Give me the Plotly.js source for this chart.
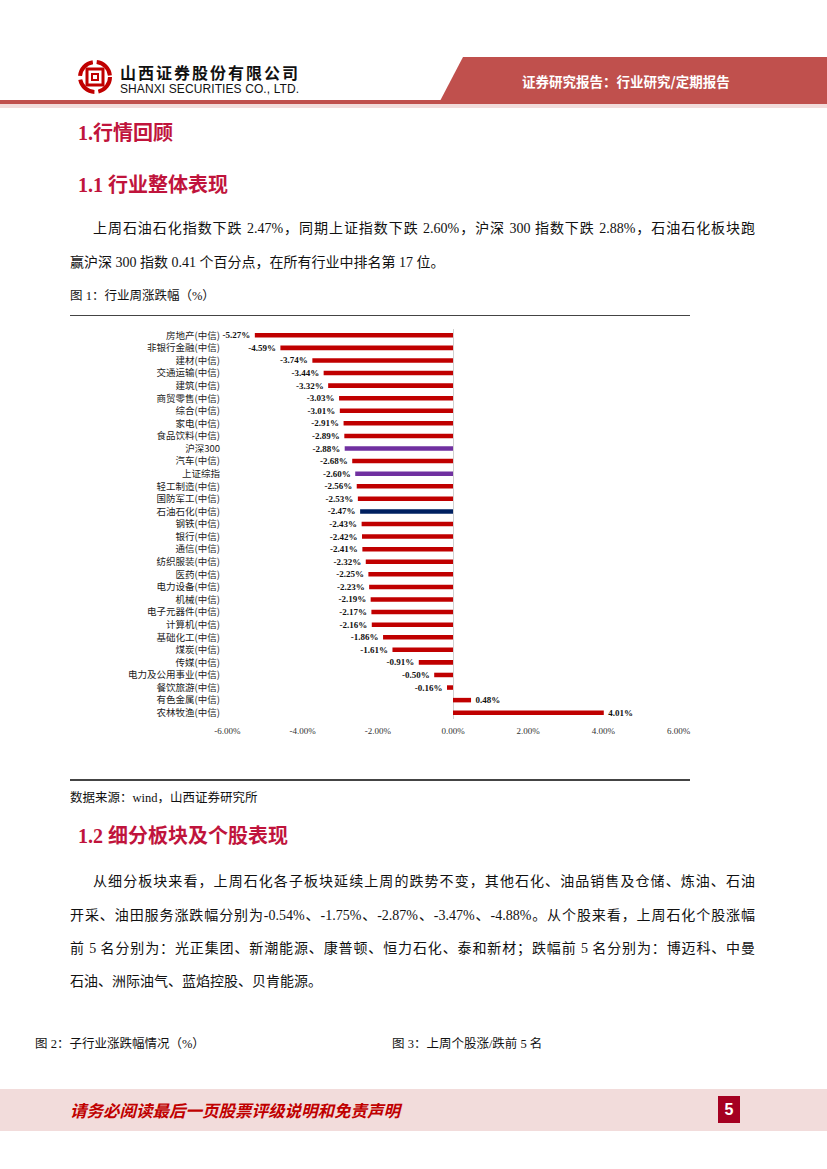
<!DOCTYPE html>
<html><head><meta charset="utf-8">
<script src="https://cdn.plot.ly/plotly-3.0.1.min.js"></script>
<style>
html,body{margin:0;padding:0;background:#fff;}
#page{position:relative;width:827px;height:1169px;overflow:hidden;background:#fff;font-family:"Liberation Serif","Noto Sans CJK SC",serif;color:#111;}
.abs{position:absolute;white-space:nowrap;}
.h{color:#C0143C;font-weight:bold;font-size:20px;line-height:28px;font-family:"Liberation Serif","Noto Sans CJK SC",serif;}
.ln{position:absolute;left:70px;width:685px;font-size:14px;line-height:20px;white-space:nowrap;text-align:justify;text-align-last:justify;color:#111;font-family:"Liberation Serif","Noto Sans CJK SC",serif;}
.ln.first{left:93px;width:662px;}
.ln.last{text-align-last:left;}
.cap{font-size:12.5px;line-height:16px;color:#111;font-family:"Liberation Serif","Noto Sans CJK SC",serif;}
</style></head>
<body><div id="page">
<!-- header -->
<svg class="abs" style="left:0;top:0" width="827" height="115">
  <polygon points="463,57 827,57 827,101 440,101" fill="#C0504D"/>
  <rect x="0" y="100" width="827" height="4" fill="#C0504D"/>
  <rect x="0" y="104" width="827" height="4" fill="#F2DCDB"/>
  <g transform="translate(95,77)" fill="none" stroke="#C00000">
    <circle r="15" stroke-width="4" stroke-dasharray="20 4"/>
    <rect x="-8" y="-8" width="16" height="16" stroke-width="3"/>
    <rect x="-3" y="-3" width="6" height="6" stroke-width="2"/>
  </g>
</svg>
<div class="abs" style="left:120px;top:63px;font-size:16px;line-height:18px;font-weight:bold;letter-spacing:2px;font-family:'Noto Sans CJK SC';color:#111;">山西证券股份有限公司</div>
<div class="abs" style="left:120px;top:83px;font-size:12px;line-height:12px;font-family:'Liberation Sans';color:#111;letter-spacing:0.1px;">SHANXI SECURITIES CO., LTD.</div>
<div class="abs" style="left:522px;top:72px;font-size:13.5px;line-height:18px;font-weight:bold;font-family:'Noto Sans CJK SC';color:#fff;">证券研究报告：行业研究/定期报告</div>

<div class="abs h" style="left:78px;top:119px;">1.行情回顾</div>
<div class="abs h" style="left:78px;top:171px;">1.1 行业整体表现</div>
<div class="ln first" style="top:219px;">上周石油石化指数下跌 2.47%，同期上证指数下跌 2.60%，沪深 300 指数下跌 2.88%，石油石化板块跑</div>
<div class="ln last" style="top:253px;">赢沪深 300 指数 0.41 个百分点，在所有行业中排名第 17 位。</div>
<div class="abs cap" style="left:70px;top:288px;">图 1：行业周涨跌幅（%）</div>
<div class="abs" style="left:70px;top:315px;width:620px;height:1px;background:#444;"></div>
<div id="chart" class="abs" style="left:70px;top:318px;width:660px;height:460px;"></div>
<div class="abs" style="left:70px;top:779px;width:620px;height:2px;background:#444;"></div>
<div class="abs cap" style="left:70px;top:790px;">数据来源：wind，山西证券研究所</div>

<div class="abs h" style="left:78px;top:822px;">1.2 细分板块及个股表现</div>
<div class="ln first" style="top:872px;">从细分板块来看，上周石化各子板块延续上周的跌势不变，其他石化、油品销售及仓储、炼油、石油</div>
<div class="ln" style="top:906px;">开采、油田服务涨跌幅分别为-0.54%、-1.75%、-2.87%、-3.47%、-4.88%。从个股来看，上周石化个股涨幅</div>
<div class="ln" style="top:939px;">前 5 名分别为：光正集团、新潮能源、康普顿、恒力石化、泰和新材；跌幅前 5 名分别为：博迈科、中曼</div>
<div class="ln last" style="top:972px;">石油、洲际油气、蓝焰控股、贝肯能源。</div>

<div class="abs cap" style="left:35px;top:1036px;">图 2：子行业涨跌幅情况（%）</div>
<div class="abs cap" style="left:392px;top:1036px;">图 3：上周个股涨/跌前 5 名</div>

<!-- footer -->
<div class="abs" style="left:0;top:1089px;width:827px;height:42px;background:#F2DCDB;"></div>
<div class="abs" style="left:70px;top:1100px;font-size:16.5px;line-height:20px;font-weight:bold;font-style:italic;color:#C00000;font-family:'Noto Sans CJK SC';">请务必阅读最后一页股票评级说明和免责声明</div>
<div class="abs" style="left:718px;top:1096px;width:22px;height:27px;background:#A50021;color:#fff;font-size:16px;font-weight:bold;text-align:center;line-height:27px;font-family:'Liberation Sans';">5</div>
</div>
<script>
const categories = ["房地产(中信)","非银行金融(中信)","建材(中信)","交通运输(中信)","建筑(中信)","商贸零售(中信)","综合(中信)","家电(中信)","食品饮料(中信)","沪深300","汽车(中信)","上证综指","轻工制造(中信)","国防军工(中信)","石油石化(中信)","钢铁(中信)","银行(中信)","通信(中信)","纺织服装(中信)","医药(中信)","电力设备(中信)","机械(中信)","电子元器件(中信)","计算机(中信)","基础化工(中信)","煤炭(中信)","传媒(中信)","电力及公用事业(中信)","餐饮旅游(中信)","有色金属(中信)","农林牧渔(中信)"];
const weeklyChange = [-5.27,-4.59,-3.74,-3.44,-3.32,-3.03,-3.01,-2.91,-2.89,-2.88,-2.68,-2.60,-2.56,-2.53,-2.47,-2.43,-2.42,-2.41,-2.32,-2.25,-2.23,-2.19,-2.17,-2.16,-1.86,-1.61,-0.91,-0.50,-0.16,0.48,4.01];
const tickValues = [-6,-4,-2,0,2,4,6];
const tickLabels = ["-6.00%","-4.00%","-2.00%","0.00%","2.00%","4.00%","6.00%"];

const barColors = categories.map(c => c==="沪深300"||c==="上证综指" ? "#7030A0" : (c==="石油石化(中信)" ? "#002060" : "#C00000"));
const pad = "\u00a0\u00a0";
const trace = {
  type:"bar", orientation:"h",
  x: weeklyChange, y: categories,
  marker:{color:barColors},
  width:0.36,
  text: weeklyChange.map(v => v < 0 ? v.toFixed(2)+"%"+pad : pad+v.toFixed(2)+"%"),
  textposition:"outside",
  constraintext:"none",
  textfont:{family:"Liberation Serif", size:9, color:"#111", weight:"bold"},
  cliponaxis:false,
  hoverinfo:"none"
};
const layout = {
  width:660, height:460,
  margin:{l:157, r:51, t:11, b:59},
  paper_bgcolor:"rgba(0,0,0,0)", plot_bgcolor:"rgba(0,0,0,0)",
  showlegend:false,
  xaxis:{range:[-6.01,6.01], tickvals:tickValues, ticktext:tickLabels, showgrid:false, showline:false,
         zeroline:true, zerolinecolor:"#d0d0d0", zerolinewidth:1, ticks:"", ticklabelstandoff:5,
         tickfont:{family:"Liberation Serif", size:9, color:"#333"}, fixedrange:true},
  yaxis:{type:"category", categoryarray:categories, autorange:"reversed", showgrid:false, showline:false,
         zeroline:false, ticks:"", ticklabelstandoff:6,
         tickfont:{family:"Noto Sans CJK SC", size:9.5, color:"#222"}, fixedrange:true},
  bargap:0.64
};
Plotly.newPlot("chart",[trace],layout,{staticPlot:true,displayModeBar:false});
</script>
</body></html>
